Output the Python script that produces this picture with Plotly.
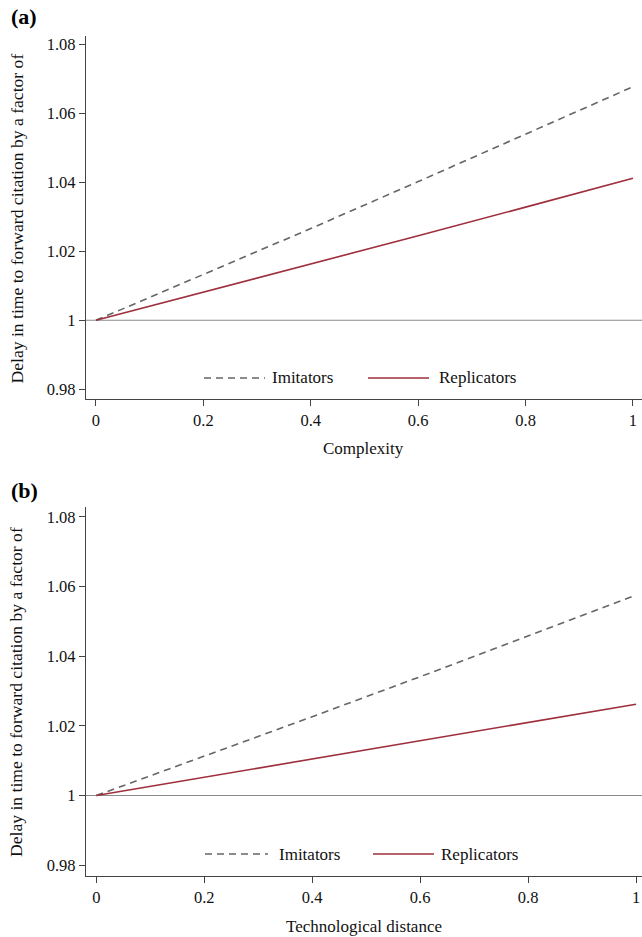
import plotly.graph_objects as go

W, H = 642, 937

# ---------------- data ----------------
x_vals = [0, 0.2, 0.4, 0.6, 0.8, 1.0]
series_names = ["Imitators", "Replicators"]

a_imitators = [1.0, 1.0132, 1.0266, 1.0402, 1.0539, 1.0677]
a_replicators = [1.0, 1.0081, 1.0163, 1.0245, 1.0328, 1.0412]
b_imitators = [1.0, 1.0112, 1.0226, 1.0341, 1.0457, 1.0575]
b_replicators = [1.0, 1.0052, 1.0104, 1.0156, 1.0209, 1.0262]

x_tickvals = [0, 0.2, 0.4, 0.6, 0.8, 1]
x_ticktext = ["0", "0.2", "0.4", "0.6", "0.8", "1"]
y_tickvals = [0.98, 1.0, 1.02, 1.04, 1.06, 1.08]
y_ticktext = ["0.98", "1", "1.02", "1.04", "1.06", "1.08"]

panel_labels = ["(a)", "(b)"]
x_titles = ["Complexity", "Technological distance"]
y_title = "Delay in time to forward citation by a factor of"

# ---------------- style ----------------
FONT = "Liberation Serif, Times New Roman, serif"
GRAY_DASH = "#666666"
RED = "#9e2f3c"
AXIS = "#444444"
TXT = "#111111"
FS = 17
FS_TICK = 16.5
FS_YTITLE = 17.6


def px_x(px):
    return px / W


def px_y(py):
    return 1 - py / H


fig = go.Figure()

panels = [
    dict(xa="x", ya="y", imit=a_imitators, repl=a_replicators,
         top=36, bottom=399, xrange=[-0.0186, 1.0168], yrange=[0.97719, 1.0824],
         label_y=17, xtitle_y=448, ytitle_y=218.5,
         leg=dict(y=378, d0=204, d1=265, t1=270, s0=368, s1=429, t2=437)),
    dict(xa="x2", ya="y2", imit=b_imitators, repl=b_replicators,
         top=507, bottom=876, xrange=[-0.019, 1.011], yrange=[0.9769, 1.0828],
         label_y=490, xtitle_y=926, ytitle_y=692,
         leg=dict(y=854, d0=205, d1=268, t1=277, s0=373, s1=434, t2=439)),
]

shapes = []
annotations = []

for i, p in enumerate(panels):
    fig.add_trace(go.Scatter(
        x=x_vals, y=p["imit"], name=series_names[0], mode="lines",
        line=dict(color=GRAY_DASH, width=1.6, dash="7px,5px"),
        xaxis=p["xa"], yaxis=p["ya"], showlegend=False))
    fig.add_trace(go.Scatter(
        x=x_vals, y=p["repl"], name=series_names[1], mode="lines",
        line=dict(color=RED, width=1.6),
        xaxis=p["xa"], yaxis=p["ya"], showlegend=False))

    axis_common = dict(showline=True, linecolor=AXIS, linewidth=1.3,
                       ticks="outside", ticklen=6, tickwidth=1.2, tickcolor=AXIS,
                       showgrid=False, zeroline=False,
                       tickfont=dict(family=FONT, size=FS_TICK, color=TXT))
    xkey = "xaxis" if i == 0 else "xaxis2"
    ykey = "yaxis" if i == 0 else "yaxis2"
    fig.update_layout({
        xkey: dict(axis_common, domain=[px_x(86), 1.0], range=p["xrange"],
                   anchor=p["ya"], tickvals=x_tickvals, ticktext=x_ticktext),
        ykey: dict(axis_common, domain=[px_y(p["bottom"]), px_y(p["top"])],
                   range=p["yrange"], anchor=p["xa"],
                   tickvals=y_tickvals, ticktext=y_ticktext),
    })

    # reference line at 1
    shapes.append(dict(type="line", xref=f"{p['xa']} domain", yref=p["ya"],
                       x0=0, x1=1, y0=1, y1=1,
                       line=dict(color="#8a8a8a", width=1.1), layer="below"))

    # custom legend
    lg = p["leg"]
    shapes.append(dict(type="line", xref="paper", yref="paper",
                       x0=px_x(lg["d0"]), x1=px_x(lg["d1"]),
                       y0=px_y(lg["y"]), y1=px_y(lg["y"]),
                       line=dict(color=GRAY_DASH, width=1.6, dash="7px,5px")))
    shapes.append(dict(type="line", xref="paper", yref="paper",
                       x0=px_x(lg["s0"]), x1=px_x(lg["s1"]),
                       y0=px_y(lg["y"]), y1=px_y(lg["y"]),
                       line=dict(color=RED, width=1.6)))
    annotations.append(dict(text=series_names[0], xref="paper", yref="paper",
                            x=px_x(lg["t1"]), y=px_y(lg["y"]),
                            xanchor="left", yanchor="middle", showarrow=False,
                            font=dict(family=FONT, size=FS, color=TXT)))
    annotations.append(dict(text=series_names[1], xref="paper", yref="paper",
                            x=px_x(lg["t2"]), y=px_y(lg["y"]),
                            xanchor="left", yanchor="middle", showarrow=False,
                            font=dict(family=FONT, size=FS, color=TXT)))

    # panel label
    annotations.append(dict(text=f"<b>{panel_labels[i]}</b>", xref="paper", yref="paper",
                            x=px_x(9), y=px_y(p["label_y"]),
                            xanchor="left", yanchor="middle", showarrow=False,
                            font=dict(family=FONT, size=22, color="#000")))
    # x title
    annotations.append(dict(text=x_titles[i], xref="paper", yref="paper",
                            x=px_x(364), y=px_y(p["xtitle_y"]),
                            xanchor="center", yanchor="middle", showarrow=False,
                            font=dict(family=FONT, size=FS, color=TXT)))
    # y title
    annotations.append(dict(text=y_title, xref="paper", yref="paper",
                            x=px_x(16), y=px_y(p["ytitle_y"]),
                            xanchor="center", yanchor="middle", showarrow=False,
                            textangle=-90,
                            font=dict(family=FONT, size=FS_YTITLE, color=TXT)))

fig.update_layout(width=W, height=H, margin=dict(l=0, r=0, t=0, b=0),
                  paper_bgcolor="white", plot_bgcolor="white",
                  shapes=shapes, annotations=annotations, showlegend=False)

fig.write_html(
    "out.html",
    config={"displayModeBar": False},
    post_script="document.body.style.margin='0';document.body.style.padding='0';"
                "document.body.style.overflow='hidden';",
)
